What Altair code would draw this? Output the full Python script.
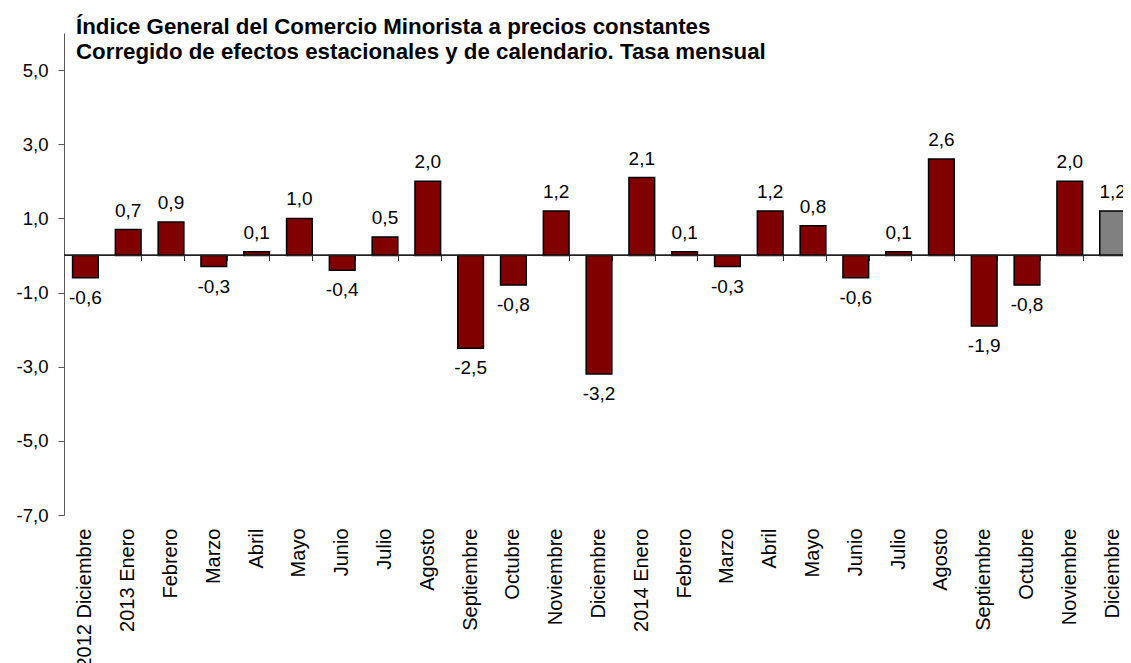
import json
import altair as alt
import pandas as pd

periodos = ["2012-12", "2013-01", "2013-02", "2013-03", "2013-04", "2013-05", "2013-06",
            "2013-07", "2013-08", "2013-09", "2013-10", "2013-11", "2013-12", "2014-01",
            "2014-02", "2014-03", "2014-04", "2014-05", "2014-06", "2014-07", "2014-08",
            "2014-09", "2014-10", "2014-11", "2014-12"]
etiquetas = ["2012 Diciembre", "2013 Enero", "Febrero", "Marzo", "Abril", "Mayo", "Junio",
             "Julio", "Agosto", "Septiembre", "Octubre", "Noviembre", "Diciembre", "2014 Enero",
             "Febrero", "Marzo", "Abril", "Mayo", "Junio", "Julio", "Agosto", "Septiembre",
             "Octubre", "Noviembre", "Diciembre"]
tasa = [-0.6, 0.7, 0.9, -0.3, 0.1, 1.0, -0.4, 0.5, 2.0, -2.5, -0.8, 1.2, -3.2, 2.1,
        0.1, -0.3, 1.2, 0.8, -0.6, 0.1, 2.6, -1.9, -0.8, 2.0, 1.2]
ticks_y = [-7, -5, -3, -1, 1, 3, 5]
dominio_y = [-7, 6]
titulo = ["Índice General del Comercio Minorista a precios constantes",
          "Corregido de efectos estacionales y de calendario. Tasa mensual"]

df = pd.DataFrame({"periodo": periodos, "tasa": tasa})
FONT = "Liberation Sans"

def fmt(v):
    return "(%s < 0 ? '-' : '') + replace(format(abs(%s), '.1f'), '.', ',')" % (v, v)

base = alt.Chart(df).transform_calculate(etiqueta=fmt("datum.tasa"))

xscale = alt.Scale(domain=periodos, paddingInner=0.4, paddingOuter=0.2)
yscale = alt.Scale(domain=dominio_y, nice=False, zero=False)
yaxis = alt.Axis(values=ticks_y, labelExpr=fmt("datum.value"),
                 title=None, grid=False, domainColor="#595959", tickColor="#595959",
                 tickSize=6, labelPadding=10, labelFontSize=18.5, labelColor="black",
                 labelFont=FONT, domainWidth=1)

label_expr = "%s[indexof(%s, datum.value)]" % (
    json.dumps(etiquetas, ensure_ascii=False), json.dumps(periodos))

bars = base.mark_bar(stroke="black", strokeWidth=1.5).encode(
    x=alt.X("periodo:N", scale=xscale, sort=periodos,
            axis=alt.Axis(orient="bottom", title=None, labelExpr=label_expr, labelAngle=270,
                          domain=False, ticks=False, labelPadding=13, labelFontSize=20,
                          labelFont=FONT, labelColor="black", labelOverlap=False)),
    y=alt.Y("tasa:Q", scale=yscale, axis=yaxis),
    color=alt.condition(alt.datum.periodo == periodos[-1], alt.value("#808080"),
                        alt.value("#800000")),
)

zero = alt.Chart(df).mark_rule(color="#222222", strokeWidth=1).encode(
    y=alt.YDatum(0, scale=yscale, axis=yaxis)
)

pos = base.transform_filter("datum.tasa >= 0").mark_text(
    baseline="alphabetic", dy=-13, fontSize=19, font=FONT, color="black"
).encode(
    x=alt.X("periodo:N", scale=xscale, sort=periodos,
            axis=alt.Axis(orient="bottom", offset=-259.5, labels=False, domain=False,
                          ticks=True, tickBand="extent", tickSize=5, tickColor="#333333",
                          tickWidth=1, title=None)),
    y=alt.Y("tasa:Q", scale=yscale, axis=yaxis),
    text="etiqueta:N",
)

neg = base.transform_filter("datum.tasa < 0").mark_text(
    baseline="top", dy=11, fontSize=19, font=FONT, color="black"
).encode(
    x=alt.X("periodo:N", scale=xscale, sort=periodos, axis=None),
    y=alt.Y("tasa:Q", scale=yscale, axis=yaxis),
    text="etiqueta:N",
)

chart = alt.layer(bars, zero, pos, neg).resolve_axis(x="independent").properties(
    width=1070,
    height=482,
    padding={"left": 56, "top": 25, "right": -11, "bottom": 148},
    autosize=alt.AutoSizeParams(type="none"),
    title=alt.Title(text=titulo, anchor="start", frame="group", offset=-30, dx=12,
                    fontSize=22.3, font=FONT, fontWeight="bold", color="black", lineHeight=25),
).configure_view(stroke=None)

chart.save("out.html", embed_options={"renderer": "svg", "actions": False})
